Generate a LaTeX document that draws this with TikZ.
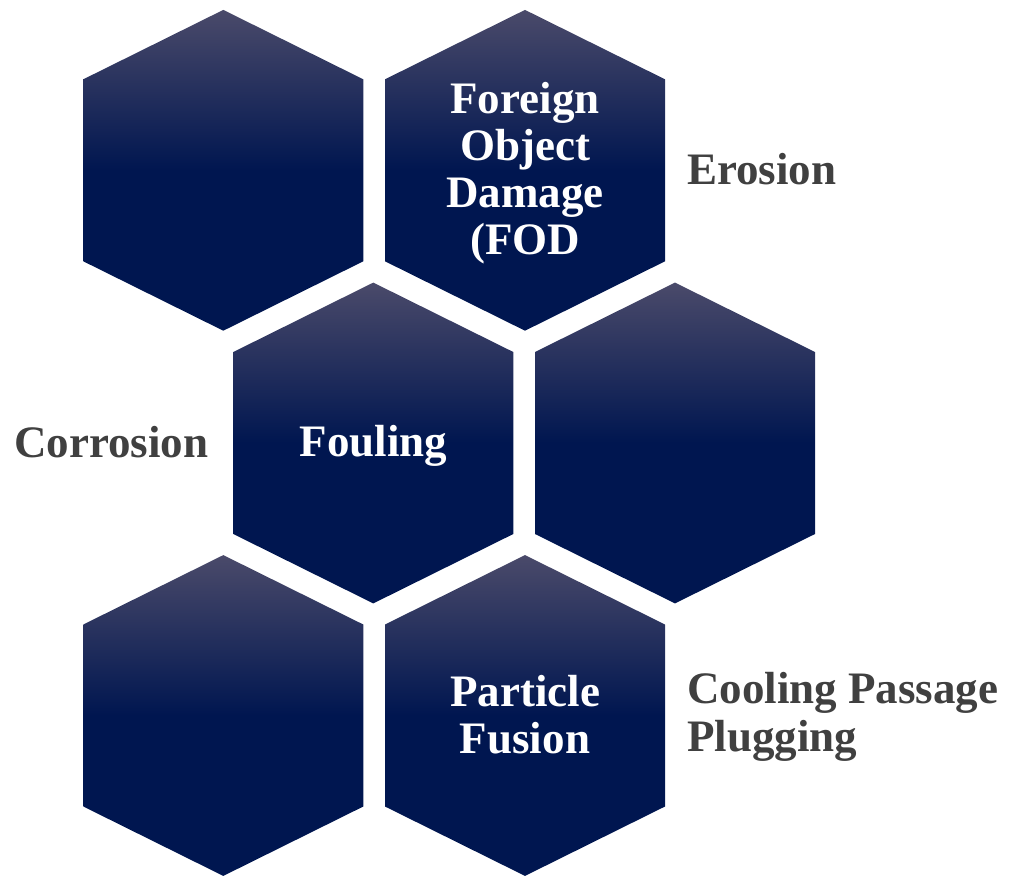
\documentclass[tikz,border=0pt]{standalone}
\usepackage{fontspec}
\setmainfont{Liberation Serif}
\usetikzlibrary{calc}
\definecolor{hexTop}{RGB}{74,74,106}
\definecolor{hexDark}{RGB}{0,22,80}
\definecolor{labelGray}{RGB}{64,64,64}
\tikzset{
  hexlabel/.style={text=white, font=\bfseries\fontsize{45}{47}\selectfont, align=center, inner sep=0pt},
  sidelabel/.style={text=labelGray, font=\bfseries\fontsize{45}{48}\selectfont, align=left, inner sep=0pt, anchor=west},
  hexfill/.style={top color=hexTop, bottom color=hexDark, middle color=hexDark, draw=none}
}
\begin{document}
\begin{tikzpicture}[x=1pt,y=-1pt]
\useasboundingbox (0,0) rectangle (1010,876);
% hexagon centres
\coordinate (hA) at (223.3,170.3);
\coordinate (hB) at (525,170.3);
\coordinate (hC) at (373.3,443);
\coordinate (hD) at (675,443);
\coordinate (hE) at (223.3,715.5);
\coordinate (hF) at (525,715.5);
% pointy-top hexagons with a top-half gradient
\foreach \h in {hA,hB,hC,hD,hE,hF}{
  \shade[hexfill] ($(\h)+(0,-160.4)$) -- ($(\h)+(140,-91)$) -- ($(\h)+(140,91)$)
    -- ($(\h)+(0,160.4)$) -- ($(\h)+(-140,91)$) -- ($(\h)+(-140,-91)$) -- cycle;
}
% labels inside the hexagons
\node[hexlabel] (fod) at ($(hB)+(0,3)$) {Foreign\\Object\\Damage\\(FOD};
\node[hexlabel] (fouling) at ($(hC)+(0,3)$) {Fouling};
\node[hexlabel] (fusion) at ($(hF)+(0,-1)$) {Particle\\Fusion};
% labels beside the hexagons
\node[sidelabel] (erosion) at (687,169) {Erosion};
\node[sidelabel] (corrosion) at (14,442) {Corrosion};
\node[sidelabel] (cooling) at (687,717) {Cooling Passage\\Plugging};
\end{tikzpicture}
\end{document}
